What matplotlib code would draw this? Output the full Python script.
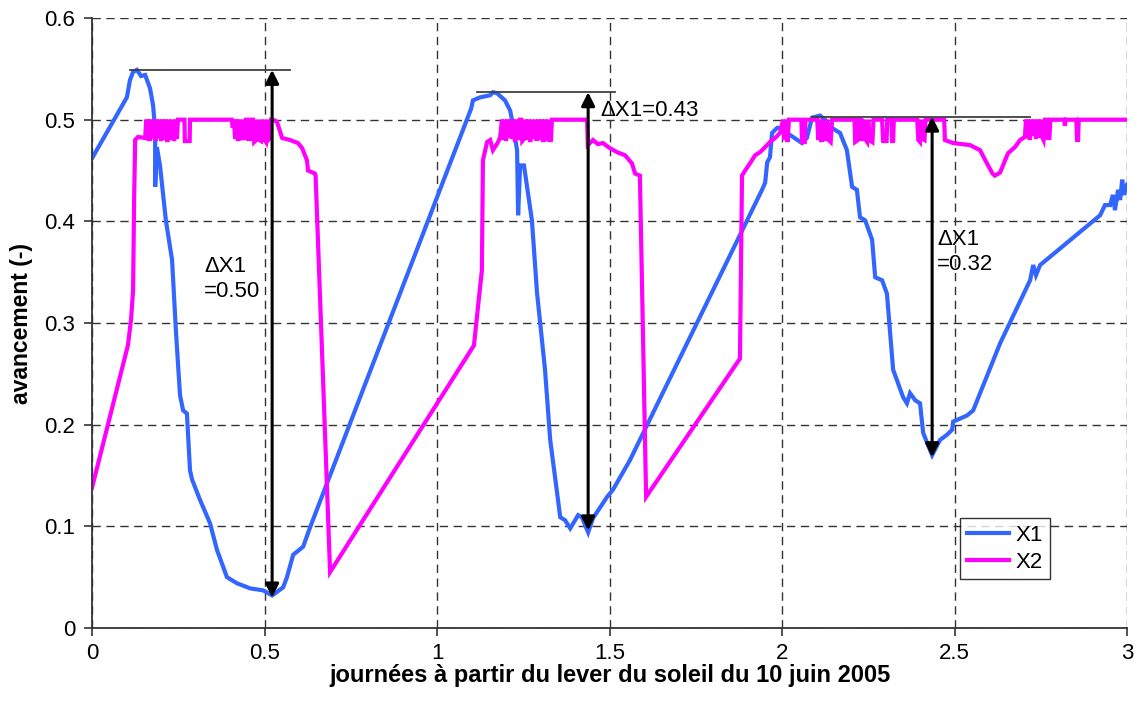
import matplotlib
matplotlib.use("Agg")
import matplotlib.pyplot as plt
from matplotlib.ticker import FormatStrFormatter, MultipleLocator

plt.rcParams["font.family"] = ["Liberation Sans", "DejaVu Sans"]

# X1 (blue)
x1_days = [
    0.000, 0.101, 0.110, 0.119, 0.130, 0.142, 0.154, 0.168, 0.177, 0.183,
    0.183, 0.188, 0.197, 0.214, 0.232, 0.243, 0.255, 0.264, 0.275, 0.284,
    0.290, 0.313, 0.342, 0.362, 0.391, 0.420, 0.458, 0.496, 0.522, 0.554,
    0.565, 0.583, 0.612, 0.632,
    1.099, 1.104, 1.125, 1.154, 1.162, 1.174, 1.197, 1.212, 1.220, 1.232,
    1.235, 1.241, 1.252, 1.275, 1.290, 1.299, 1.313, 1.328, 1.348, 1.357,
    1.371, 1.386, 1.409, 1.420, 1.438, 1.452, 1.493, 1.510, 1.559,
    1.942, 1.951, 1.957, 1.965, 1.971, 1.986, 2.003, 2.014, 2.058, 2.072,
    2.087, 2.110, 2.125, 2.139, 2.168, 2.188, 2.203, 2.217, 2.226, 2.241,
    2.261, 2.270, 2.290, 2.304, 2.322, 2.351, 2.362, 2.371, 2.386, 2.400,
    2.409, 2.435, 2.458, 2.478, 2.493, 2.496, 2.536, 2.554, 2.632, 2.719,
    2.728, 2.736, 2.748, 2.922, 2.936, 2.951, 2.959, 2.965, 2.974, 2.980,
    2.986, 2.991, 3.000,
]
x1_vals = [
    0.462, 0.522, 0.539, 0.547, 0.549, 0.543, 0.544, 0.531, 0.514, 0.490,
    0.434, 0.473, 0.455, 0.401, 0.362, 0.293, 0.229, 0.214, 0.211, 0.155,
    0.146, 0.126, 0.103, 0.077, 0.050, 0.044, 0.039, 0.037, 0.032, 0.040,
    0.050, 0.072, 0.080, 0.099,
    0.511, 0.519, 0.522, 0.524, 0.527, 0.526, 0.519, 0.509, 0.495, 0.470,
    0.406, 0.455, 0.455, 0.401, 0.329, 0.300, 0.254, 0.185, 0.133, 0.109,
    0.106, 0.098, 0.111, 0.109, 0.094, 0.108, 0.129, 0.136, 0.165,
    0.431, 0.438, 0.458, 0.463, 0.487, 0.492, 0.492, 0.487, 0.477, 0.482,
    0.502, 0.504, 0.500, 0.493, 0.487, 0.470, 0.434, 0.431, 0.404, 0.401,
    0.382, 0.345, 0.342, 0.329, 0.254, 0.227, 0.221, 0.231, 0.224, 0.221,
    0.192, 0.170, 0.185, 0.190, 0.195, 0.203, 0.209, 0.214, 0.280, 0.342,
    0.357, 0.347, 0.357, 0.406, 0.416, 0.416, 0.426, 0.411, 0.431, 0.421,
    0.441, 0.426, 0.436,
]

# X2 (magenta)
x2_days = [
    0.000, 0.104, 0.113, 0.119, 0.122, 0.125, 0.133, 0.154,
    0.157, 0.160, 0.163, 0.167, 0.171, 0.175, 0.180, 0.184, 0.188, 0.192,
    0.196, 0.200, 0.205, 0.209, 0.213, 0.218, 0.223, 0.228, 0.233, 0.238,
    0.243, 0.246, 0.249,
    0.268, 0.269, 0.283, 0.284,
    0.405, 0.408, 0.411, 0.415, 0.419, 0.423, 0.427, 0.431, 0.434, 0.438,
    0.443, 0.446, 0.450, 0.453, 0.459, 0.462, 0.467, 0.470, 0.476, 0.480,
    0.485, 0.490, 0.494, 0.498, 0.504, 0.507, 0.511, 0.516, 0.519, 0.524,
    0.536, 0.551, 0.574, 0.597, 0.609, 0.623, 0.626, 0.646, 0.648, 0.690,
    1.107, 1.130, 1.133, 1.145, 1.154, 1.162, 1.177, 1.183,
    1.188, 1.192, 1.196, 1.200, 1.204, 1.208, 1.213, 1.217, 1.222, 1.226,
    1.231, 1.235, 1.240, 1.244, 1.247, 1.252, 1.256, 1.260, 1.265, 1.270,
    1.275, 1.279, 1.284, 1.289, 1.294, 1.298, 1.303, 1.308, 1.312, 1.317,
    1.321, 1.326, 1.330, 1.333,
    1.435, 1.437, 1.452, 1.466, 1.481, 1.501, 1.522, 1.545, 1.565, 1.574,
    1.588, 1.606,
    1.878, 1.884, 1.893, 1.907, 1.922, 1.936, 1.951, 1.965, 1.980, 1.994,
    2.003, 2.007, 2.011, 2.016, 2.020,
    2.056, 2.058, 2.066, 2.068,
    2.102, 2.105, 2.110, 2.114, 2.119, 2.124, 2.130, 2.135, 2.141, 2.145,
    2.210, 2.212, 2.220, 2.222, 2.230, 2.233, 2.238, 2.243, 2.247, 2.250,
    2.254, 2.262, 2.265,
    2.290, 2.293, 2.303, 2.305, 2.317, 2.319, 2.322, 2.324,
    2.392, 2.395, 2.400, 2.404, 2.408, 2.413, 2.416,
    2.470, 2.472, 2.496, 2.545, 2.574, 2.594, 2.610, 2.617, 2.632, 2.655,
    2.675, 2.690, 2.704,
    2.707, 2.710, 2.714, 2.718, 2.722, 2.727, 2.731, 2.736, 2.740, 2.745,
    2.749, 2.754, 2.758, 2.762, 2.768, 2.771, 2.775, 2.778,
    2.818, 2.820, 2.822, 2.853, 2.855, 2.858, 2.860, 3.000,
]
x2_vals = [
    0.138, 0.278, 0.303, 0.332, 0.421, 0.480, 0.483, 0.482,
    0.500, 0.480, 0.500, 0.479, 0.500, 0.481, 0.500, 0.479, 0.500, 0.482,
    0.500, 0.479, 0.500, 0.480, 0.500, 0.478, 0.500, 0.480, 0.500, 0.479,
    0.500, 0.481, 0.500,
    0.500, 0.479, 0.479, 0.500,
    0.500, 0.492, 0.500, 0.481, 0.500, 0.479, 0.500, 0.483, 0.480, 0.500,
    0.480, 0.500, 0.500, 0.481, 0.481, 0.500, 0.500, 0.478, 0.480, 0.500,
    0.480, 0.479, 0.500, 0.481, 0.478, 0.500, 0.480, 0.482, 0.500, 0.500,
    0.498, 0.482, 0.480, 0.477, 0.472, 0.460, 0.450, 0.447, 0.445, 0.055,
    0.278, 0.352, 0.460, 0.478, 0.480, 0.470, 0.478, 0.483,
    0.500, 0.480, 0.500, 0.479, 0.500, 0.482, 0.500, 0.481, 0.500, 0.478,
    0.500, 0.480, 0.500, 0.500, 0.479, 0.481, 0.500, 0.480, 0.500, 0.478,
    0.500, 0.481, 0.500, 0.479, 0.500, 0.480, 0.500, 0.478, 0.500, 0.479,
    0.500, 0.480, 0.480, 0.500,
    0.500, 0.475, 0.480, 0.476, 0.477, 0.472, 0.468, 0.465, 0.457, 0.447,
    0.445, 0.129,
    0.265, 0.445, 0.450, 0.457, 0.465, 0.468, 0.473, 0.478, 0.482, 0.487,
    0.500, 0.480, 0.500, 0.478, 0.500,
    0.500, 0.478, 0.478, 0.500,
    0.500, 0.480, 0.500, 0.478, 0.500, 0.479, 0.500, 0.480, 0.478, 0.500,
    0.500, 0.478, 0.480, 0.500, 0.500, 0.479, 0.500, 0.480, 0.478, 0.500,
    0.480, 0.478, 0.500,
    0.500, 0.479, 0.479, 0.500, 0.500, 0.479, 0.479, 0.500,
    0.500, 0.480, 0.478, 0.500, 0.481, 0.480, 0.500,
    0.500, 0.480, 0.477, 0.475, 0.470, 0.457, 0.447, 0.445, 0.448, 0.467,
    0.473, 0.480, 0.483,
    0.500, 0.482, 0.500, 0.480, 0.500, 0.484, 0.500, 0.481, 0.500, 0.482,
    0.500, 0.483, 0.480, 0.500, 0.500, 0.482, 0.482, 0.500,
    0.500, 0.494, 0.500, 0.500, 0.480, 0.480, 0.500, 0.500,
]

# peak reference lines (level, x start, x end) and arrows (x, top, bottom)
peak_levels = [0.549, 0.527, 0.503]
peak_starts = [0.110, 1.116, 2.087]
peak_ends = [0.574, 1.516, 2.719]
arrow_x = [0.522, 1.438, 2.435]
arrow_bottom = [0.030, 0.096, 0.168]
delta_labels = ["ΔX1\n=0.50", "ΔX1=0.43", "ΔX1\n=0.32"]
label_pos = [(0.325, 0.366), (1.472, 0.509), (2.449, 0.392)]
label_va = ["top", "center", "top"]

fig = plt.figure(figsize=(11.39, 7.21), dpi=100)
ax = fig.add_axes([0.0808, 0.129, 0.9087, 0.846])

ax.plot(x1_days, x1_vals, color="#3366ff", lw=3.0, label="X1", solid_joinstyle="miter")
ax.plot(x2_days, x2_vals, color="#ff00ff", lw=3.0, label="X2", solid_joinstyle="miter")

for lvl, xa, xb in zip(peak_levels, peak_starts, peak_ends):
    ax.plot([xa, xb], [lvl, lvl], color="#404040", lw=1.3, zorder=4)

for xa, top, bot in zip(arrow_x, peak_levels, arrow_bottom):
    ax.annotate("", xy=(xa, bot), xytext=(xa, top),
                arrowprops=dict(arrowstyle="<|-|>", color="black", lw=2.2,
                                mutation_scale=20, shrinkA=0, shrinkB=0),
                zorder=5)

for txt, (tx, ty), va in zip(delta_labels, label_pos, label_va):
    ax.text(tx, ty, txt, fontsize=16, ha="left", va=va, linespacing=1.25, zorder=6)

ax.set_xlim(0, 3)
ax.set_ylim(0, 0.6)
ax.xaxis.set_major_locator(MultipleLocator(0.5))
ax.yaxis.set_major_locator(MultipleLocator(0.1))
ax.xaxis.set_major_formatter(FormatStrFormatter("%g"))
ax.yaxis.set_major_formatter(FormatStrFormatter("%g"))
ax.tick_params(labelsize=16, direction="out", length=6, width=1.2, color="#333333")
ax.tick_params(axis="x", pad=5)
ax.tick_params(axis="y", pad=6)
ax.grid(True, color="#333333", lw=1.0, linestyle=(0, (6, 4)))
ax.set_axisbelow(True)

for side in ["top", "right"]:
    ax.spines[side].set_visible(False)
for side in ["left", "bottom"]:
    ax.spines[side].set_color("#333333")
    ax.spines[side].set_linewidth(1.3)

ax.set_xlabel("journées à partir du lever du soleil du 10 juin 2005",
              fontsize=17, fontweight="bold", labelpad=0)
ax.set_ylabel("avancement (-)", fontsize=16.5, fontweight="bold", labelpad=8)

leg = ax.legend(loc="lower right", bbox_to_anchor=(0.9256, 0.080), fontsize=16,
                frameon=True, fancybox=False, handlelength=1.9, handletextpad=0.3,
                borderpad=0.3, labelspacing=0.25, borderaxespad=0)
leg.get_frame().set_edgecolor("black")
leg.get_frame().set_linewidth(1.0)

fig.savefig("out.png", dpi=100)
